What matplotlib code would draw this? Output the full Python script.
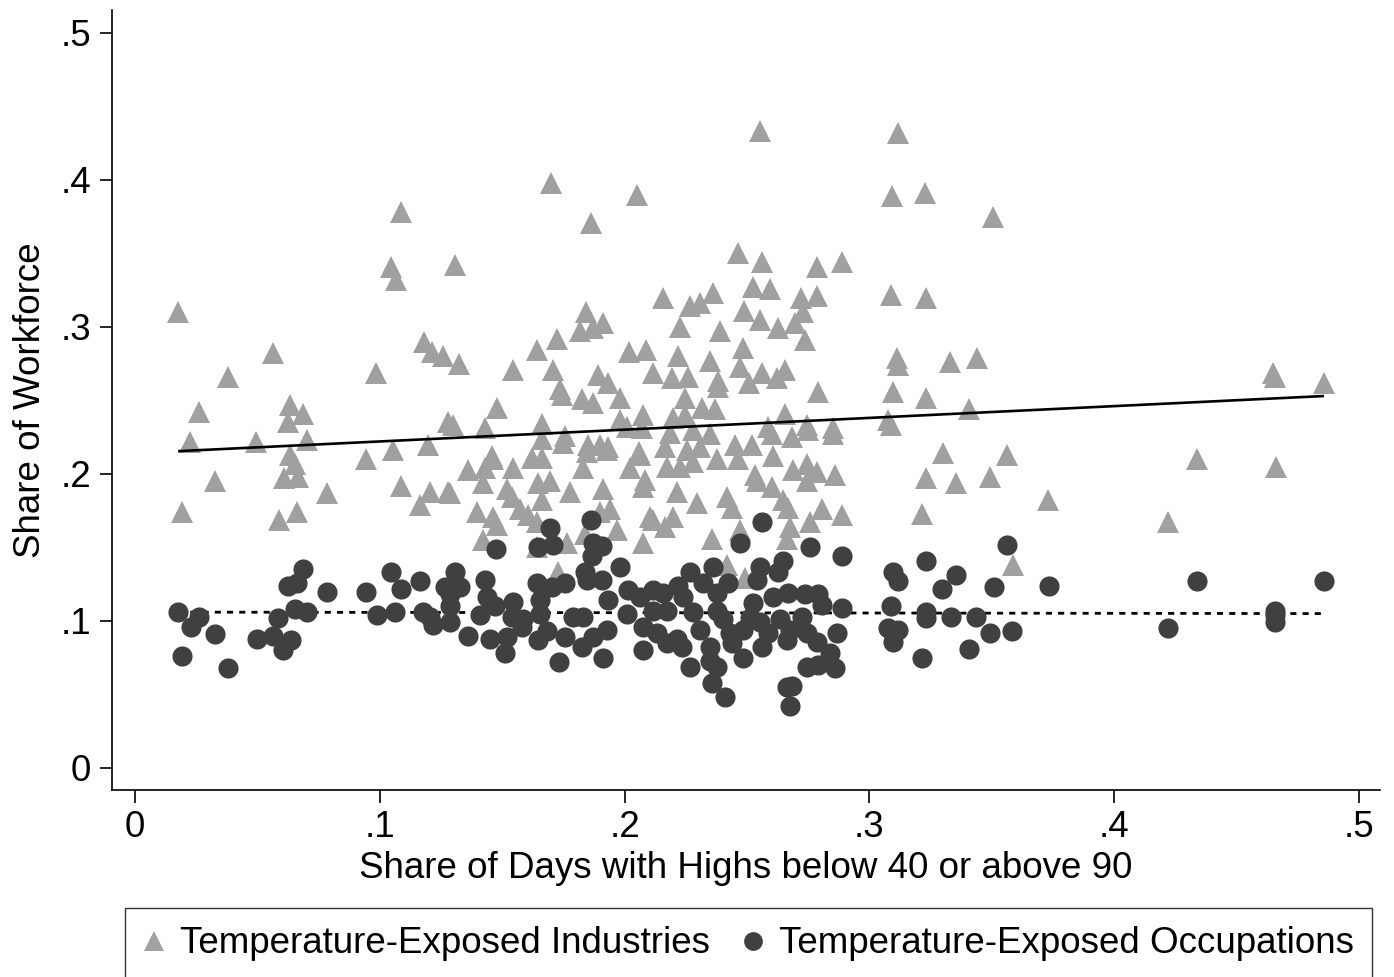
import matplotlib
matplotlib.use("Agg")
import matplotlib.pyplot as plt
from matplotlib.lines import Line2D
import numpy as np

plt.rcParams['font.family'] = ['Liberation Sans', 'DejaVu Sans']

# Temperature-exposed industries (triangles)
ind_x = [0.0176, 0.0192, 0.0225, 0.0261, 0.0327, 0.0380, 0.0494, 0.0564, 0.0588, 0.0633,
         0.0686, 0.0625, 0.0703, 0.0633, 0.0654, 0.0666, 0.0609, 0.0662, 0.0784, 0.0944,
         0.0984, 0.1046, 0.1066, 0.1087, 0.1054, 0.1087, 0.1164, 0.1197, 0.1205, 0.1181,
         0.1213, 0.1258, 0.1279, 0.1279, 0.1307, 0.1324, 0.1299, 0.1699, 0.2051, 0.1863,
         0.1842, 0.1912, 0.1818, 0.1871, 0.1724, 0.1642, 0.2018, 0.2087, 0.1544, 0.1708,
         0.2116, 0.1891, 0.1932, 0.1736, 0.1744, 0.1826, 0.1871, 0.1981, 0.1479, 0.1430,
         0.1663, 0.1981, 0.2075, 0.2010, 0.2071, 0.1757, 0.1663, 0.1850, 0.1900, 0.1932,
         0.2059, 0.1458, 0.1360, 0.1430, 0.1462, 0.1544, 0.1622, 0.1663, 0.1748, 0.1846,
         0.1928, 0.1830, 0.1287, 0.1422, 0.1520, 0.1540, 0.1646, 0.1695, 0.1663, 0.1777,
         0.1912, 0.1940, 0.1900, 0.2063, 0.2022, 0.2083, 0.2075, 0.1397, 0.1462, 0.1479,
         0.1422, 0.1573, 0.1605, 0.1642, 0.1838, 0.1969, 0.1765, 0.2075, 0.2116, 0.1728,
         0.1642, 0.2553, 0.2463, 0.2561, 0.2786, 0.2888, 0.2157, 0.2525, 0.2594, 0.2361,
         0.2308, 0.2267, 0.2721, 0.2786, 0.2488, 0.2553, 0.2729, 0.2696, 0.2627, 0.2226,
         0.2390, 0.2737, 0.2218, 0.2484, 0.2349, 0.2471, 0.2194, 0.2259, 0.2561, 0.2655,
         0.2623, 0.2382, 0.2382, 0.2508, 0.2247, 0.2790, 0.2198, 0.2247, 0.2316, 0.2369,
         0.2655, 0.2745, 0.2851, 0.2586, 0.2185, 0.2279, 0.2349, 0.2165, 0.2255, 0.2308,
         0.2451, 0.2520, 0.2602, 0.2684, 0.2749, 0.2851, 0.2173, 0.2226, 0.2279, 0.2377,
         0.2463, 0.2606, 0.2688, 0.2745, 0.2786, 0.2859, 0.2533, 0.2541, 0.2602, 0.2745,
         0.2214, 0.2296, 0.2418, 0.2439, 0.2647, 0.2667, 0.2104, 0.2165, 0.2198, 0.2471,
         0.2676, 0.2757, 0.2806, 0.2888, 0.2357, 0.2663, 0.2418, 0.2492, 0.3117, 0.3092,
         0.3227, 0.3505, 0.3088, 0.3231, 0.3113, 0.3117, 0.3329, 0.3440, 0.3096, 0.3231,
         0.3407, 0.3076, 0.3088, 0.3301, 0.3562, 0.3231, 0.3354, 0.3493, 0.3730, 0.3215,
         0.3587, 0.4220, 0.4338, 0.4649, 0.4657, 0.4661, 0.4857]
ind_y = [0.310, 0.174, 0.222, 0.242, 0.195, 0.266, 0.222, 0.282, 0.169, 0.247,
         0.241, 0.235, 0.223, 0.213, 0.207, 0.198, 0.197, 0.174, 0.187, 0.210,
         0.269, 0.341, 0.332, 0.378, 0.216, 0.192, 0.179, 0.220, 0.188, 0.290,
         0.283, 0.280, 0.235, 0.188, 0.342, 0.275, 0.233, 0.398, 0.390, 0.371,
         0.310, 0.303, 0.297, 0.299, 0.292, 0.284, 0.283, 0.284, 0.271, 0.271,
         0.269, 0.267, 0.262, 0.258, 0.254, 0.251, 0.248, 0.252, 0.245, 0.231,
         0.234, 0.237, 0.240, 0.232, 0.231, 0.226, 0.224, 0.220, 0.220, 0.218,
         0.215, 0.212, 0.203, 0.204, 0.210, 0.204, 0.211, 0.211, 0.221, 0.215,
         0.216, 0.204, 0.187, 0.194, 0.190, 0.184, 0.194, 0.195, 0.182, 0.188,
         0.190, 0.176, 0.174, 0.213, 0.204, 0.196, 0.191, 0.174, 0.171, 0.165,
         0.155, 0.176, 0.172, 0.167, 0.159, 0.162, 0.153, 0.153, 0.169, 0.133,
         0.150, 0.433, 0.350, 0.344, 0.341, 0.344, 0.320, 0.327, 0.326, 0.323,
         0.316, 0.314, 0.320, 0.321, 0.311, 0.305, 0.310, 0.303, 0.299, 0.300,
         0.297, 0.291, 0.280, 0.286, 0.277, 0.273, 0.265, 0.266, 0.269, 0.271,
         0.265, 0.263, 0.259, 0.262, 0.252, 0.256, 0.238, 0.240, 0.245, 0.244,
         0.241, 0.233, 0.231, 0.232, 0.228, 0.230, 0.227, 0.218, 0.216, 0.218,
         0.220, 0.220, 0.227, 0.225, 0.230, 0.227, 0.205, 0.205, 0.208, 0.210,
         0.210, 0.212, 0.203, 0.207, 0.201, 0.199, 0.199, 0.195, 0.191, 0.195,
         0.188, 0.180, 0.184, 0.177, 0.182, 0.177, 0.171, 0.164, 0.171, 0.162,
         0.164, 0.167, 0.176, 0.172, 0.156, 0.156, 0.138, 0.129, 0.432, 0.389,
         0.391, 0.375, 0.322, 0.320, 0.279, 0.274, 0.276, 0.279, 0.256, 0.252,
         0.244, 0.237, 0.233, 0.214, 0.213, 0.197, 0.194, 0.198, 0.182, 0.173,
         0.138, 0.167, 0.210, 0.269, 0.266, 0.205, 0.262]

# Temperature-exposed occupations (circles)
occ_x = [0.0176, 0.0261, 0.0229, 0.0327, 0.0192, 0.0380, 0.0584, 0.0654, 0.0703, 0.0498,
         0.0564, 0.0637, 0.0605, 0.0625, 0.0662, 0.0686, 0.0784, 0.0944, 0.1046, 0.1087,
         0.1164, 0.0989, 0.1062, 0.1176, 0.1205, 0.1217, 0.1266, 0.1475, 0.1695, 0.1646,
         0.1708, 0.1863, 0.1871, 0.1908, 0.1867, 0.1981, 0.1307, 0.1328, 0.1287, 0.1287,
         0.1430, 0.1438, 0.1471, 0.1409, 0.1544, 0.1540, 0.1581, 0.1642, 0.1654, 0.1654,
         0.1703, 0.1757, 0.1838, 0.1846, 0.1908, 0.1932, 0.1789, 0.1830, 0.2014, 0.2063,
         0.2116, 0.2010, 0.2075, 0.1287, 0.1360, 0.1450, 0.1520, 0.1511, 0.1646, 0.1683,
         0.1757, 0.1826, 0.1871, 0.1928, 0.1732, 0.1912, 0.2075, 0.1585, 0.2561, 0.2471,
         0.2757, 0.2888, 0.2553, 0.2647, 0.2627, 0.2267, 0.2361, 0.2320, 0.2422, 0.2377,
         0.2157, 0.2218, 0.2239, 0.2541, 0.2525, 0.2606, 0.2667, 0.2737, 0.2790, 0.2806,
         0.2888, 0.2116, 0.2173, 0.2279, 0.2377, 0.2402, 0.2512, 0.2553, 0.2635, 0.2725,
         0.2132, 0.2214, 0.2308, 0.2431, 0.2484, 0.2586, 0.2676, 0.2745, 0.2173, 0.2234,
         0.2349, 0.2439, 0.2561, 0.2663, 0.2786, 0.2868, 0.2349, 0.2484, 0.2839, 0.2267,
         0.2377, 0.2745, 0.2790, 0.2859, 0.2357, 0.2410, 0.2663, 0.2684, 0.2676, 0.3562,
         0.3096, 0.3117, 0.3231, 0.3354, 0.3297, 0.3509, 0.3734, 0.3088, 0.3231, 0.3231,
         0.3333, 0.3435, 0.3076, 0.3117, 0.3096, 0.3493, 0.3583, 0.3215, 0.3407, 0.4220,
         0.4338, 0.4657, 0.4657, 0.4657, 0.4857]
occ_y = [0.106, 0.103, 0.096, 0.091, 0.076, 0.068, 0.102, 0.108, 0.106, 0.088,
         0.090, 0.087, 0.080, 0.124, 0.126, 0.135, 0.120, 0.120, 0.133, 0.122,
         0.127, 0.104, 0.106, 0.106, 0.103, 0.097, 0.123, 0.149, 0.163, 0.150,
         0.152, 0.169, 0.153, 0.151, 0.144, 0.137, 0.133, 0.123, 0.118, 0.110,
         0.128, 0.116, 0.110, 0.104, 0.113, 0.103, 0.096, 0.126, 0.114, 0.105,
         0.123, 0.126, 0.133, 0.128, 0.128, 0.114, 0.103, 0.103, 0.121, 0.116,
         0.121, 0.105, 0.096, 0.099, 0.090, 0.088, 0.089, 0.078, 0.087, 0.093,
         0.089, 0.082, 0.089, 0.094, 0.072, 0.075, 0.080, 0.101, 0.167, 0.153,
         0.150, 0.144, 0.137, 0.141, 0.133, 0.133, 0.137, 0.126, 0.126, 0.119,
         0.119, 0.124, 0.116, 0.128, 0.112, 0.116, 0.119, 0.118, 0.118, 0.111,
         0.109, 0.107, 0.107, 0.106, 0.107, 0.101, 0.102, 0.099, 0.101, 0.103,
         0.092, 0.088, 0.094, 0.092, 0.094, 0.092, 0.094, 0.092, 0.085, 0.082,
         0.082, 0.085, 0.082, 0.087, 0.086, 0.092, 0.073, 0.075, 0.078, 0.069,
         0.069, 0.069, 0.070, 0.068, 0.058, 0.048, 0.055, 0.056, 0.042, 0.152,
         0.133, 0.127, 0.141, 0.131, 0.122, 0.123, 0.124, 0.110, 0.106, 0.102,
         0.103, 0.103, 0.095, 0.094, 0.086, 0.092, 0.093, 0.075, 0.081, 0.095,
         0.127, 0.107, 0.104, 0.099, 0.127]

# Fitted lines (endpoints)
fit_x = [0.0176, 0.4857]
fit_ind = [0.2155, 0.2530]
fit_occ = [0.1060, 0.1050]

xticks = [0, 0.1, 0.2, 0.3, 0.4, 0.5]
xtick_labels = ["0", ".1", ".2", ".3", ".4", ".5"]
yticks = [0, 0.1, 0.2, 0.3, 0.4, 0.5]
ytick_labels = ["0", ".1", ".2", ".3", ".4", ".5"]

TRI = "#a0a0a0"
CIR = "#404040"
FS = 26.5

W, H = 1394, 977
fig = plt.figure(figsize=(W / 100, H / 100), dpi=100)
ax = fig.add_axes([112 / W, 187 / H, (1380 - 112) / W, (967 - 187) / H])

ax.plot(ind_x, ind_y, linestyle='none', marker='^', ms=15.5, color=TRI,
        markeredgewidth=0, zorder=2)
ax.plot(fit_x, fit_ind, color='black', lw=1.9, zorder=3, solid_capstyle='butt')
ax.plot(fit_x, fit_occ, color='black', lw=2.0, linestyle=(0, (2.2, 2.2)), zorder=3)
ax.plot(occ_x, occ_y, linestyle='none', marker='o', ms=14.5, color=CIR,
        markeredgewidth=0, zorder=4)

ax.set_xlim(-0.0094, 0.5086)
ax.set_ylim(-0.015, 0.5156)
ax.spines['top'].set_visible(False)
ax.spines['right'].set_visible(False)
for s in ('left', 'bottom'):
    ax.spines[s].set_linewidth(1.2)
ax.set_xticks(xticks)
ax.set_xticklabels(xtick_labels)
ax.set_yticks(yticks)
ax.set_yticklabels(ytick_labels)
ax.tick_params(axis='both', direction='out', length=9, width=1.2, labelsize=FS,
               colors='black')
ax.tick_params(axis='x', pad=5.5)
ax.tick_params(axis='y', pad=6)

ax.set_xlabel("Share of Days with Highs below 40 or above 90", fontsize=FS, labelpad=4.5)
ax.set_ylabel("Share of Workforce", fontsize=FS, labelpad=9)

handles = [Line2D([], [], linestyle='none', marker='^', ms=14, color=TRI, markeredgewidth=0),
           Line2D([], [], linestyle='none', marker='o', ms=13.5, color=CIR, markeredgewidth=0)]
leg = fig.legend(handles, ["Temperature-Exposed Industries", "Temperature-Exposed Occupations"],
                 loc='upper left', bbox_to_anchor=(125 / W, 1 - 908 / H, 1247 / W, 0.0),
                 mode='expand', ncol=2, fontsize=FS, frameon=True, fancybox=False,
                 edgecolor='black', handlelength=0.6, handletextpad=0.4,
                 borderpad=0.5, borderaxespad=0)
leg.get_frame().set_linewidth(1.0)

fig.savefig("out.png", dpi=100)
